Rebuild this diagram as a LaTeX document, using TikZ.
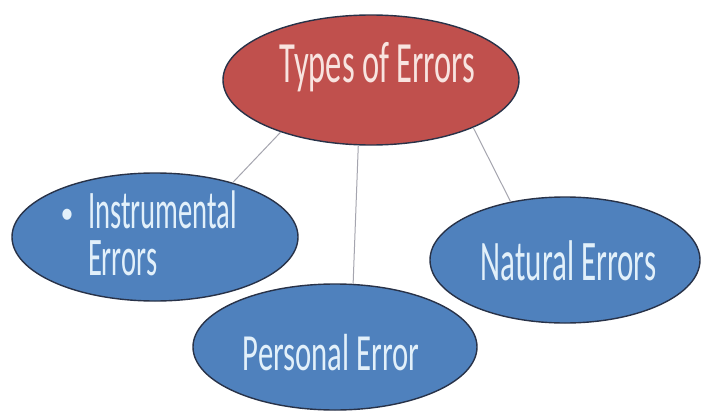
\documentclass[tikz,border=0pt]{standalone}
\usepackage{fontspec}
\setmainfont{Carlito}
\usetikzlibrary{shapes.geometric}
\definecolor{redfill}{RGB}{192,80,77}
\definecolor{bluefill}{RGB}{79,129,189}
\definecolor{outline}{RGB}{40,50,72}
\definecolor{redtext}{RGB}{248,228,224}
\definecolor{bluetext}{RGB}{226,240,250}
\definecolor{linkgray}{RGB}{165,165,175}
\tikzset{
  bubble/.style={ellipse, draw=outline, line width=1.4pt, inner sep=0pt},
  redbubble/.style={bubble, fill=redfill},
  bluebubble/.style={bubble, fill=bluefill},
  label/.style={inner sep=0pt, outer sep=0pt},
  link/.style={draw=linkgray, line width=1pt}
}
\newcommand{\tallText}[3]{\scalebox{1}[#2]{\fontsize{#1}{#1}\selectfont #3}}
\begin{document}
\begin{tikzpicture}[x=1pt,y=-1pt]
\useasboundingbox[fill=white] (0,0) rectangle (704,415);
% ellipses
\node[redbubble, minimum width=296pt, minimum height=130pt] (top) at (371,80) {};
\node[bluebubble, minimum width=286pt, minimum height=128pt] (instr) at (155,237) {};
\node[bluebubble, minimum width=270pt, minimum height=126pt] (nat) at (565,260) {};
\node[bluebubble, minimum width=284pt, minimum height=126pt] (pers) at (335,347) {};
% connectors
\draw[link] (top.210) -- (instr.35);
\draw[link] (top.259) -- (pers.74);
\draw[link] (top.-25.5) -- (nat.133.6);
% texts
\node[label, anchor=base, text=redtext] (ttop) at (377.5,82) {\tallText{32.5pt}{1.8}{Types of Errors}};
\node[label, anchor=center, text=bluetext] (bullet) at (67,216) {\tallText{26pt}{1.2}{•}};
\node[label, anchor=base west, text=bluetext] (tinstr) at (88,228) {\scalebox{1}[1.9]{\fontsize{28.6pt}{22.1pt}\selectfont\begin{tabular}[t]{@{}l@{}}Instrumental\\Errors\end{tabular}}};
\node[label, anchor=base, text=bluetext] (tnat) at (568.5,280) {\tallText{31pt}{1.85}{Natural Errors}};
\node[label, anchor=base, text=bluetext] (tpers) at (331,370) {\tallText{30.7pt}{1.7}{Personal Error}};
\end{tikzpicture}
\end{document}
